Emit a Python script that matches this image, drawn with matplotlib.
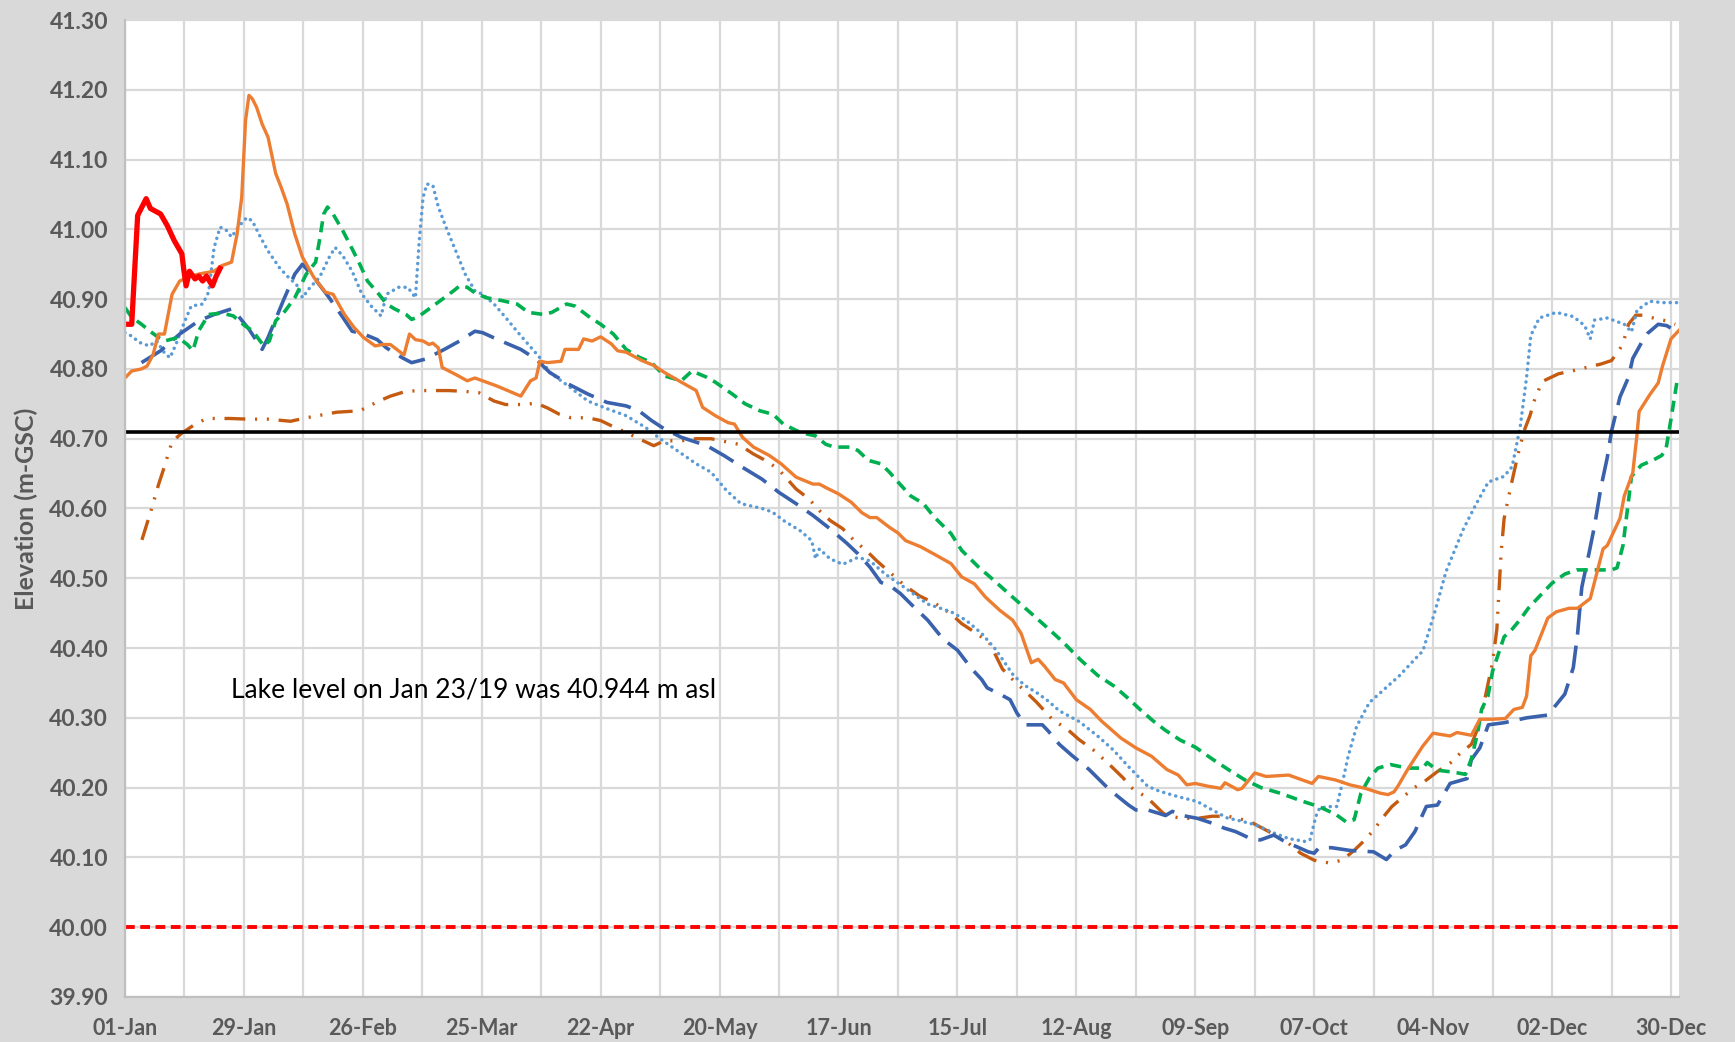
import matplotlib.pyplot as plt

# x = days since 01-Jan (leap-year calendar), y = elevation (m-GSC)
tick_labels = ["01-Jan", "29-Jan", "26-Feb", "25-Mar", "22-Apr", "20-May", "17-Jun",
               "15-Jul", "12-Aug", "09-Sep", "07-Oct", "04-Nov", "02-Dec", "30-Dec"]

red_days = [0, 1.6, 3, 5, 6, 7.5, 8.4, 10, 11.6, 13.4, 13.8, 14.4, 15.2, 16.5, 17.4, 18.3,
            19.2, 20.6, 21.5, 22.4]
red_vals = [40.864, 40.864, 41.02, 41.044, 41.03, 41.025, 41.022, 41.005, 40.984, 40.965,
            40.945, 40.919, 40.94, 40.929, 40.933, 40.926, 40.933, 40.919, 40.933, 40.944]

orange_days = [0, 1.6, 3.9, 5.2, 6.6, 7.9, 9.3, 11.1, 12.9, 15.6, 17.4, 21, 22.8, 25.1, 26.4,
               27.5, 28.4, 29.2, 30, 31, 32.3, 33.7, 35.5, 36.8, 38.2, 40, 41.8, 44.5, 47.2,
               49, 51.7, 54, 56.2, 58.9, 60.7, 62.5, 65.7, 67, 68.4, 70.2, 71.6, 72.5, 73.8,
               74.7, 77.9, 80.6, 82.4, 84.2, 87.8, 90.5, 93.2, 95.5, 96.8, 97.7, 99.5, 102.7,
               103.6, 106.8, 108, 110, 112, 114.5, 116, 118, 121.7, 124.5, 127, 131, 134.5,
               136, 139, 142, 143.5, 145.4, 148, 151.7, 154.5, 158, 162, 163.5, 165, 168, 171,
               173.5, 175.4, 177, 180, 182, 183.8, 187.4, 191, 194.5, 197, 200, 202.6, 206,
               209, 211, 213.4, 215, 216.5, 219, 221, 224, 227.3, 230, 234.5, 238, 241.7,
               245.3, 248, 250, 252, 255, 258, 259, 262, 263, 266, 268.7, 274, 279.5, 281,
               285, 288.4, 292, 295.6, 297.4, 298.8, 299.7, 302, 305.5, 308, 312, 313.6, 317,
               319, 322, 325, 327, 329, 330, 331, 332, 335, 337, 340, 342, 345, 348, 349,
               352, 353, 355, 356, 356.5, 359, 361, 362, 364, 366]
orange_vals = [40.787, 40.797, 40.80, 40.804, 40.82, 40.85, 40.85, 40.907, 40.926, 40.933,
               40.936, 40.94, 40.948, 40.953, 40.993, 41.046, 41.156, 41.192, 41.187, 41.175,
               41.151, 41.132, 41.08, 41.06, 41.036, 40.993, 40.96, 40.931, 40.91, 40.907,
               40.878, 40.859, 40.845, 40.833, 40.835, 40.835, 40.82, 40.85, 40.842, 40.84,
               40.835, 40.837, 40.83, 40.802, 40.792, 40.783, 40.787, 40.783, 40.775, 40.768,
               40.761, 40.783, 40.787, 40.811, 40.809, 40.811, 40.828, 40.828, 40.843, 40.84,
               40.846, 40.836, 40.826, 40.824, 40.812, 40.805, 40.795, 40.781, 40.769, 40.745,
               40.733, 40.723, 40.721, 40.702, 40.688, 40.676, 40.664, 40.645, 40.635, 40.635,
               40.63, 40.621, 40.609, 40.594, 40.587, 40.587, 40.573, 40.565, 40.554, 40.545,
               40.533, 40.521, 40.502, 40.492, 40.473, 40.454, 40.44, 40.421, 40.379, 40.384,
               40.374, 40.355, 40.35, 40.326, 40.312, 40.295, 40.271, 40.257, 40.245, 40.226,
               40.218, 40.204, 40.206, 40.202, 40.199, 40.207, 40.197, 40.199, 40.221, 40.216,
               40.218, 40.206, 40.216, 40.211, 40.204, 40.199, 40.192, 40.19, 40.194, 40.202,
               40.226, 40.259, 40.278, 40.274, 40.279, 40.275, 40.298, 40.298, 40.299, 40.312,
               40.315, 40.331, 40.389, 40.397, 40.443, 40.452, 40.457, 40.457, 40.471, 40.542,
               40.547, 40.586, 40.618, 40.651, 40.706, 40.739, 40.763, 40.78, 40.804, 40.843,
               40.856]

green_days = [0, 1.6, 3.9, 5.7, 7.9, 9.3, 10.6, 12.5, 14.7, 16, 17.4, 19.7, 22.8, 25.5, 28.2,
              30, 32.7, 34, 35.5, 37.7, 40, 42.7, 44.9, 45.8, 46.8, 47.7, 49, 51.3, 53.5, 55.3,
              57.1, 59.8, 61.6, 63.5, 66.2, 67.5, 68.9, 71.6, 74.3, 77.4, 78.8, 80.6, 82.4,
              85.1, 88.7, 92.3, 95, 98.6, 100.5, 104, 106, 109, 112, 115, 118, 121, 124, 127,
              131, 133.5, 137, 139, 143, 146, 149.5, 152.6, 155, 159, 162.6, 165, 167, 171,
              172.6, 175, 178, 180, 182, 185, 188, 190.5, 194.5, 197, 201, 204.6, 209, 213.5,
              217, 220.8, 225, 229, 233, 236, 239, 242, 245, 248.5, 252, 256, 260, 263.7,
              267.5, 272, 277, 281, 285, 287.5, 289.4, 291, 293, 295, 298, 302, 305.6, 306.6,
              309, 313, 315.6, 317, 318.5, 319.4, 320.9, 322, 324.7, 326.6, 328.5, 330.4, 333,
              336, 339, 341.8, 346.6, 350, 351.3, 352.7, 353.7, 354.7, 357, 360, 361.8, 362.8,
              364, 365.5]
green_vals = [40.888, 40.874, 40.864, 40.855, 40.845, 40.84, 40.842, 40.845, 40.835, 40.826,
              40.855, 40.878, 40.88, 40.876, 40.862, 40.855, 40.833, 40.84, 40.869, 40.883,
              40.902, 40.936, 40.953, 40.984, 41.022, 41.032, 41.022, 40.998, 40.972, 40.95,
              40.926, 40.907, 40.893, 40.886, 40.878, 40.871, 40.874, 40.886, 40.898, 40.912,
              40.919, 40.917, 40.909, 40.902, 40.898, 40.893, 40.881, 40.878, 40.881, 40.893,
              40.89, 40.876, 40.864, 40.85, 40.828, 40.817, 40.809, 40.79, 40.783, 40.797,
              40.788, 40.781, 40.764, 40.75, 40.74, 40.735, 40.721, 40.709, 40.704, 40.692,
              40.688, 40.688, 40.683, 40.669, 40.664, 40.652, 40.638, 40.618, 40.607, 40.588,
              40.564, 40.54, 40.516, 40.497, 40.473, 40.449, 40.43, 40.409, 40.383, 40.361,
              40.345, 40.329, 40.312, 40.296, 40.282, 40.268, 40.258, 40.241, 40.225, 40.211,
              40.20, 40.192, 40.181, 40.173, 40.162, 40.151, 40.154, 40.192, 40.214, 40.228,
              40.233, 40.228, 40.228, 40.236, 40.225, 40.222, 40.219, 40.241, 40.279, 40.312,
              40.331, 40.367, 40.416, 40.427, 40.441, 40.457, 40.474, 40.493, 40.506, 40.512,
              40.512, 40.512, 40.515, 40.547, 40.596, 40.646, 40.662, 40.67, 40.676, 40.684,
              40.728, 40.785]

blue_days = [3.9, 8.4, 12.9, 17.4, 21, 25.1, 26.4, 29.2, 32.3, 33.7, 37.3, 40, 41.8, 44.5,
             48.1, 51.3, 53.5, 56.2, 59.4, 61.6, 65.3, 67.5, 70.7, 75.2, 78.8, 82.4, 84.2,
             87.8, 93.2, 96.8, 100, 104.5, 109, 113.5, 118, 121, 124, 127, 131, 134.5, 137,
             141, 145.4, 150, 154, 158, 162, 166, 170, 172.6, 175.4, 178, 180, 182.6, 185.4,
             189, 192.6, 196, 199.4, 201.7, 203, 206, 208.4, 210, 212, 216, 217.4, 220, 222.8,
             227, 231.8, 236.3, 238, 240.8, 243.5, 245, 246.6, 249, 252.5, 256, 258.8, 261.5,
             265, 267.3, 270.5, 273, 276, 278.6, 280, 281, 284, 288.4, 294, 297, 299, 301.5,
             303.7, 306.4, 309, 312, 316, 317, 319, 321, 324.7, 330, 335, 339, 341, 342, 343,
             344.7, 346, 347.5, 349, 350, 352, 354, 355, 357, 358.5, 361, 363, 365.5]
blue_vals = [40.809, 40.826, 40.85, 40.869, 40.878, 40.886, 40.878, 40.857, 40.828, 40.845,
             40.898, 40.936, 40.95, 40.931, 40.902, 40.874, 40.854, 40.85, 40.842, 40.83,
             40.816, 40.809, 40.814, 40.828, 40.84, 40.854, 40.852, 40.842, 40.828, 40.814,
             40.795, 40.778, 40.764, 40.752, 40.747, 40.74, 40.726, 40.714, 40.702, 40.695,
             40.69, 40.676, 40.659, 40.642, 40.623, 40.607, 40.59, 40.571, 40.55, 40.535,
             40.516, 40.494, 40.49, 40.478, 40.461, 40.44, 40.413, 40.397, 40.37, 40.355,
             40.343, 40.334, 40.326, 40.307, 40.29, 40.29, 40.281, 40.262, 40.247, 40.226,
             40.197, 40.175, 40.168, 40.168, 40.163, 40.16, 40.166, 40.16, 40.156, 40.149,
             40.142, 40.137, 40.127, 40.125, 40.132, 40.123, 40.115, 40.108, 40.106, 40.113,
             40.114, 40.11, 40.108, 40.097, 40.11, 40.118, 40.137, 40.173, 40.175, 40.206,
             40.213, 40.24, 40.257, 40.29, 40.293, 40.30, 40.304, 40.334, 40.372, 40.42,
             40.487, 40.536, 40.575, 40.63, 40.673, 40.711, 40.76, 40.788, 40.815, 40.837,
             40.851, 40.864, 40.862, 40.853]

ltblue_days = [0, 1.6, 3.4, 5.7, 7.5, 9.3, 10.6, 12, 13.8, 15.6, 18.3, 19.7, 21, 22.4, 23.7,
               25.1, 26.9, 28.7, 30, 31.9, 33.7, 36.4, 38.2, 40.4, 41.8, 43.6, 45.8, 48.1,
               49.5, 51.3, 53.5, 55.8, 58, 60.3, 61.6, 64.4, 66.6, 68.4, 69.3, 70.2, 71.1,
               72.5, 73.8, 75.6, 77.9, 80.1, 82.4, 84.2, 86.9, 89.6, 92.3, 95, 97.7, 100,
               104.5, 109, 113.5, 118, 122.6, 126, 130, 134.5, 138, 141.6, 145, 150, 152.4,
               155, 159, 161.7, 162.6, 163.5, 166, 169, 172.6, 175.4, 179, 183.5, 189, 194.5,
               198, 201.7, 205, 209.3, 212, 214.7, 217.4, 220, 224.6, 229, 232.7, 236.3,
               240.8, 243.5, 248, 252.5, 256, 259.7, 261.5, 266, 270.5, 274, 277.7, 279,
               280.4, 281.3, 284, 285.3, 286.6, 288, 290, 293, 296.5, 300, 303.7, 305.6,
               308.5, 311, 315, 318, 321, 324.7, 326.6, 328.5, 330, 331, 333, 337, 341,
               343.7, 345, 346, 349, 353, 354.7, 356, 359, 362, 365.5]
ltblue_vals = [40.852, 40.847, 40.838, 40.833, 40.84, 40.823, 40.816, 40.835, 40.864, 40.89,
               40.893, 40.91, 40.974, 41.003, 41.0, 40.989, 41.005, 41.017, 41.012, 40.989,
               40.969, 40.945, 40.933, 40.921, 40.902, 40.917, 40.931, 40.96, 40.974, 40.962,
               40.94, 40.907, 40.89, 40.876, 40.907, 40.917, 40.917, 40.902, 40.984, 41.046,
               41.065, 41.063, 41.032, 41.003, 40.969, 40.936, 40.912, 40.907, 40.893,
               40.874, 40.854, 40.835, 40.816, 40.795, 40.775, 40.754, 40.743, 40.733,
               40.716, 40.70, 40.683, 40.664, 40.652, 40.626, 40.607, 40.60, 40.595, 40.583,
               40.568, 40.554, 40.528, 40.542, 40.528, 40.52, 40.53, 40.525, 40.506, 40.487,
               40.463, 40.452, 40.44, 40.421, 40.398, 40.36, 40.346, 40.336, 40.324, 40.31,
               40.295, 40.274, 40.254, 40.23, 40.202, 40.195, 40.187, 40.18, 40.168, 40.156,
               40.154, 40.147, 40.135, 40.127, 40.123, 40.125, 40.159, 40.171, 40.173,
               40.173, 40.206, 40.245, 40.288, 40.322, 40.341, 40.36, 40.384, 40.396, 40.454,
               40.509, 40.569, 40.605, 40.638, 40.646, 40.66, 40.717, 40.788, 40.848, 40.873,
               40.881, 40.875, 40.862, 40.843, 40.87, 40.873, 40.864, 40.853, 40.884, 40.897,
               40.895, 40.895]

brown_days = [4, 6.1, 7.9, 9.3, 11.1, 13.4, 16.1, 19.2, 24.6, 29.2, 33.7, 39, 42.7, 46.3,
              49.9, 55.3, 59.8, 62.5, 66.2, 69.8, 76.1, 79.7, 83.3, 86.9, 89.6, 94.1, 96.8,
              99.5, 102.3, 105, 109, 112, 115.4, 118, 121, 124.5, 127, 131, 134.5, 138, 142,
              144.5, 148, 151.7, 154.5, 158, 161, 163.5, 166, 169, 171.7, 174.5, 177, 180,
              183.5, 187, 191, 194.5, 197, 200, 203.5, 206.6, 209.3, 212, 214.7, 218.3, 222,
              224.6, 228, 231.8, 235, 237.2, 240.8, 244.5, 246, 249, 252.5, 256, 259.7, 262,
              265, 268.7, 271.4, 274, 276.8, 280, 283.6, 286.6, 289.4, 291.6, 294, 296,
              298.3, 301, 303.3, 306, 309, 312, 314.5, 317, 318.6, 320, 321.3, 322, 323,
              323.7, 324, 324.7, 325.6, 326.6, 328, 329.4, 330.8, 332, 333.7, 337.5, 341.3,
              344.7, 347.5, 350, 352, 353, 354, 355.7, 357.5, 360.4, 362.8, 365]
brown_vals = [40.555, 40.596, 40.634, 40.66, 40.696, 40.708, 40.719, 40.729, 40.729, 40.728,
              40.728, 40.725, 40.73, 40.734, 40.738, 40.74, 40.754, 40.761, 40.768, 40.769,
              40.769, 40.768, 40.766, 40.754, 40.749, 40.749, 40.751, 40.744, 40.735, 40.73,
              40.73, 40.726, 40.716, 40.709, 40.70, 40.69, 40.697, 40.697, 40.70, 40.70,
              40.695, 40.692, 40.678, 40.666, 40.652, 40.628, 40.614, 40.597, 40.583, 40.571,
              40.554, 40.54, 40.525, 40.509, 40.49, 40.475, 40.463, 40.449, 40.435, 40.423,
              40.408, 40.37, 40.353, 40.338, 40.322, 40.298, 40.283, 40.269, 40.254, 40.233,
              40.214, 40.199, 40.185, 40.163, 40.159, 40.156, 40.156, 40.159, 40.159, 40.156,
              40.151, 40.139, 40.13, 40.12, 40.106, 40.096, 40.092, 40.096, 40.11, 40.123,
              40.139, 40.156, 40.173, 40.187, 40.199, 40.209, 40.223, 40.235, 40.25, 40.262,
              40.286, 40.322, 40.36, 40.38, 40.427, 40.504, 40.536, 40.585, 40.612, 40.64,
              40.678, 40.711, 40.733, 40.758, 40.782, 40.793, 40.798, 40.803, 40.807, 40.812,
              40.829, 40.843, 40.864, 40.877, 40.877, 40.872, 40.869, 40.864]

target_level = 40.71
low_level = 40.00
note = "Lake level on Jan 23/19 was 40.944 m asl"

plt.rcParams['lines.scale_dashes'] = False
plt.rcParams['font.family'] = ['Lato', 'DejaVu Sans']

fig = plt.figure(figsize=(17.35, 10.42), dpi=100, facecolor='#D9D9D9')
ax = fig.add_axes([0.072, 0.0432, 0.896, 0.9376])
ax.set_facecolor('white')

ax.plot(brown_days, brown_vals, color='#C55A11', lw=2.4, dashes=(15, 7, 1.5, 7, 1.5, 7))
ax.plot(ltblue_days, ltblue_vals, color='#5B9BD5', lw=2.5, dashes=(0.1, 4.4), dash_capstyle='round')
ax.plot(blue_days, blue_vals, color='#3A62AC', lw=2.6, dashes=(20, 8))
ax.plot(green_days, green_vals, color='#00B050', lw=2.6, dashes=(8, 5))
ax.plot(orange_days, orange_vals, color='#ED7D31', lw=2.4)
ax.plot(red_days, red_vals, color='#FF0000', lw=3.8)

ax.axhline(target_level, color='black', lw=2.6)
ax.axhline(low_level, color='#FF0000', lw=2.8, dashes=(7, 4))

ax.text(25, 40.34, note, fontsize=19, color='black', va='center', ha='left')

ax.set_xlim(0, 366)
ax.set_ylim(39.90, 41.30)
ax.set_xticks(range(0, 365, 28))
ax.set_xticklabels(tick_labels)
ax.set_xticks(range(0, 365, 14), minor=True)
ax.set_yticks([39.90 + 0.1 * i for i in range(15)])
ax.set_yticklabels(['%.2f' % (39.90 + 0.1 * i) for i in range(15)])

ax.grid(True, which='both', axis='x', color='#D9D9D9', lw=1.6)
ax.grid(True, which='major', axis='y', color='#D9D9D9', lw=1.6)
ax.set_axisbelow(True)

ax.tick_params(axis='both', which='both', length=0, colors='#595959')
ax.tick_params(axis='y', labelsize=16.5, pad=12)
ax.tick_params(axis='x', labelsize=15.5, pad=15)
for lab in ax.get_xticklabels() + ax.get_yticklabels():
    lab.set_fontweight('bold')

for side in ['top', 'right']:
    ax.spines[side].set_visible(False)
ax.spines['left'].set_color('#BFBFBF')
ax.spines['bottom'].set_color('#BFBFBF')
ax.spines['left'].set_linewidth(1.6)
ax.spines['bottom'].set_linewidth(1.6)

ax.set_ylabel("Elevation (m-GSC)", fontsize=18, fontweight='bold', color='#595959', labelpad=8)

fig.savefig('out.png', dpi=100, facecolor=fig.get_facecolor())
